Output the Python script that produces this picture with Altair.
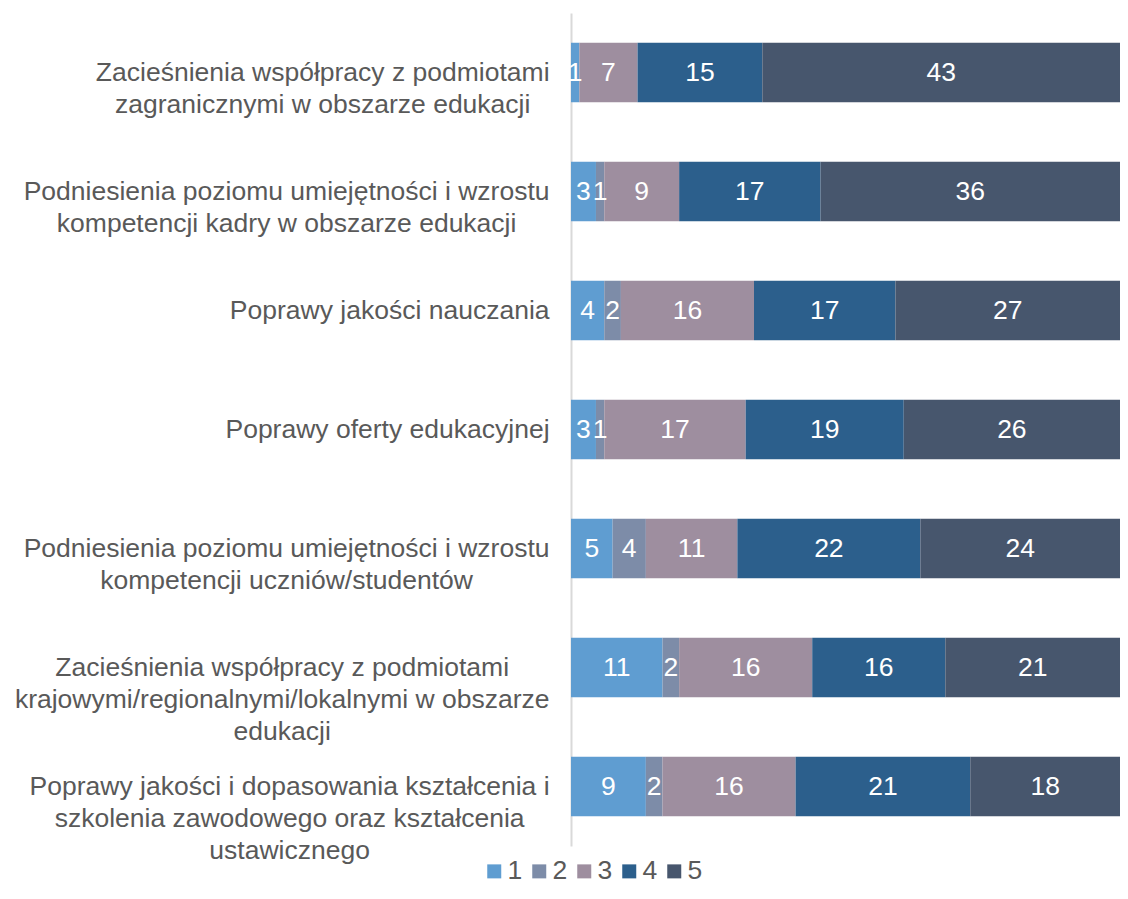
import altair as alt
import pandas as pd

# Category labels ("|" marks a line break, as wrapped in the original)
categories = [
    "Zacieśnienia współpracy z podmiotami|zagranicznymi w obszarze edukacji",
    "Podniesienia poziomu umiejętności i wzrostu|kompetencji kadry w obszarze edukacji",
    "Poprawy jakości nauczania",
    "Poprawy oferty edukacyjnej",
    "Podniesienia poziomu umiejętności i wzrostu|kompetencji uczniów/studentów",
    "Zacieśnienia współpracy z podmiotami|krajowymi/regionalnymi/lokalnymi w obszarze|edukacji",
    "Poprawy jakości i dopasowania kształcenia i|szkolenia zawodowego oraz kształcenia|ustawicznego",
]
levels = ["1", "2", "3", "4", "5"]
s1 = [1, 3, 4, 3, 5, 11, 9]
s2 = [0, 1, 2, 1, 4, 2, 2]
s3 = [7, 9, 16, 17, 11, 16, 16]
s4 = [15, 17, 17, 19, 22, 16, 21]
s5 = [43, 36, 27, 26, 24, 21, 18]
colors = ["#5f9dd1", "#7d8ca8", "#9e8e9f", "#2c5f8c", "#47566d"]

FONT = "Liberation Sans"
LABEL_SIZE = 26.5
GAP = 22

# Approximate Arial/Liberation Sans advance widths (per 1000 em), used only to
# place each centre-aligned wrapped label so that its widest line ends at the axis.
W = {" ": 278, "/": 278, "Z": 611, "P": 667,
     "a": 556, "b": 556, "c": 500, "d": 556, "e": 556, "f": 278, "g": 556,
     "h": 556, "i": 222, "j": 222, "k": 500, "l": 222, "m": 833, "n": 556,
     "o": 556, "p": 556, "q": 556, "r": 333, "s": 500, "t": 278, "u": 556,
     "v": 500, "w": 722, "x": 500, "y": 500, "z": 500,
     "ą": 556, "ć": 500, "ę": 556, "ł": 222, "ń": 556, "ó": 556, "ś": 500,
     "ź": 500, "ż": 500}


def block_width(label):
    return max(sum(W.get(ch, 556) for ch in ln) for ln in label.split("|")) / 1000 * LABEL_SIZE


pad_conditions = [
    {"test": "datum.value === '%s'" % c, "value": round(GAP + block_width(c) / 2, 1)}
    for c in categories
]

rows = []
series = [s1, s2, s3, s4, s5]
for li, (lvl, vals) in enumerate(zip(levels, series)):
    for c, v in zip(categories, vals):
        rows.append({"cat": c, "level": lvl, "lvl": li + 1, "value": v})
df = pd.DataFrame(rows)

base = alt.Chart(df)

bars = base.mark_bar().encode(
    y=alt.Y(
        "cat:N",
        sort=categories,
        scale=alt.Scale(paddingInner=0.5, paddingOuter=0.25),
        axis=alt.Axis(
            title=None,
            labelExpr="split(datum.label, '|')",
            labelFont=FONT,
            labelFontSize=LABEL_SIZE,
            labelColor="#595959",
            labelLineHeight=32,
            labelAlign="center",
            labelPadding={"condition": pad_conditions, "value": GAP},
            labelLimit=700,
            ticks=False,
            domainColor="#d9d9d9",
            domainWidth=2,
        ),
    ),
    x=alt.X("value:Q", stack="zero", scale=alt.Scale(domain=[0, 66], nice=False), axis=None),
    color=alt.Color(
        "level:N",
        scale=alt.Scale(domain=levels, range=colors),
        legend=alt.Legend(
            title=None,
            orient="none",
            legendX=-90,
            legendY=845,
            direction="horizontal",
            symbolType="square",
            symbolSize=196,
            symbolStrokeWidth=0,
            symbolOpacity=1,
            labelFont=FONT,
            labelFontSize=LABEL_SIZE,
            labelColor="#595959",
            labelOffset=0,
            columnPadding=3,
        ),
    ),
    order=alt.Order("lvl:Q"),
)

labels = (
    base.transform_filter("datum.value > 0")
    .transform_stack(stack="value", as_=["x0", "x1"], groupby=["cat"], sort=[alt.SortField("lvl")])
    .transform_calculate(mid="(datum.x0 + datum.x1) / 2")
    .mark_text(font=FONT, fontSize=LABEL_SIZE, color="white", align="center", baseline="middle")
    .encode(
        x=alt.X("mid:Q", scale=alt.Scale(domain=[0, 66], nice=False), axis=None),
        y=alt.Y("cat:N", sort=categories),
        text=alt.Text("value:Q"),
    )
)

chart = (
    alt.layer(bars, labels)
    .properties(
        width=549,
        height=833,
        padding={"left": 563, "top": 5, "right": 0, "bottom": 40},
        autosize=alt.AutoSizeParams(type="none"),
        background="white",
    )
    .configure_view(stroke=None)
)

chart.save("out.html", embed_options={"renderer": "svg", "actions": False})
